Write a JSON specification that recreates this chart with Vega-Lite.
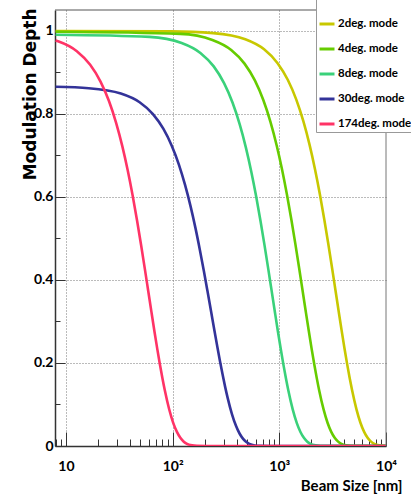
{
  "$schema": "https://vega.github.io/schema/vega-lite/v6.json",
  "width": 331,
  "height": 436,
  "autosize": {"type": "none"},
  "padding": {"left": 55, "top": 10, "right": 25, "bottom": 49},
  "background": "white",
  "config": {"view": {"stroke": null}},
  "datasets": {
    "curves": [
      {"mode": "2deg. mode", "size": 8, "depth": 0.9994},
      {"mode": "2deg. mode", "size": 96, "depth": 0.9986},
      {"mode": "2deg. mode", "size": 240, "depth": 0.9944},
      {"mode": "2deg. mode", "size": 480, "depth": 0.9796},
      {"mode": "2deg. mode", "size": 720, "depth": 0.9554},
      {"mode": "2deg. mode", "size": 960, "depth": 0.9226},
      {"mode": "2deg. mode", "size": 1200, "depth": 0.882},
      {"mode": "2deg. mode", "size": 1440, "depth": 0.8348},
      {"mode": "2deg. mode", "size": 1680, "depth": 0.7822},
      {"mode": "2deg. mode", "size": 1920, "depth": 0.7257},
      {"mode": "2deg. mode", "size": 2160, "depth": 0.6666},
      {"mode": "2deg. mode", "size": 2400, "depth": 0.6062},
      {"mode": "2deg. mode", "size": 2640, "depth": 0.5457},
      {"mode": "2deg. mode", "size": 2880, "depth": 0.4865},
      {"mode": "2deg. mode", "size": 3120, "depth": 0.4293},
      {"mode": "2deg. mode", "size": 3360, "depth": 0.3751},
      {"mode": "2deg. mode", "size": 3600, "depth": 0.3245},
      {"mode": "2deg. mode", "size": 3840, "depth": 0.2779},
      {"mode": "2deg. mode", "size": 4080, "depth": 0.2356},
      {"mode": "2deg. mode", "size": 4320, "depth": 0.1978},
      {"mode": "2deg. mode", "size": 4560, "depth": 0.1644},
      {"mode": "2deg. mode", "size": 4800, "depth": 0.1353},
      {"mode": "2deg. mode", "size": 5280, "depth": 0.0889},
      {"mode": "2deg. mode", "size": 5760, "depth": 0.0561},
      {"mode": "2deg. mode", "size": 6240, "depth": 0.034},
      {"mode": "2deg. mode", "size": 6720, "depth": 0.0198},
      {"mode": "2deg. mode", "size": 7200, "depth": 0.0111},
      {"mode": "2deg. mode", "size": 7680, "depth": 0.006},
      {"mode": "2deg. mode", "size": 8640, "depth": 0.0015},
      {"mode": "2deg. mode", "size": 10000, "depth": 0.0002},

      {"mode": "4deg. mode", "size": 8, "depth": 0.9976},
      {"mode": "4deg. mode", "size": 118, "depth": 0.9926},
      {"mode": "4deg. mode", "size": 236, "depth": 0.9778},
      {"mode": "4deg. mode", "size": 354, "depth": 0.9537},
      {"mode": "4deg. mode", "size": 472, "depth": 0.9209},
      {"mode": "4deg. mode", "size": 590, "depth": 0.8804},
      {"mode": "4deg. mode", "size": 708, "depth": 0.8333},
      {"mode": "4deg. mode", "size": 826, "depth": 0.7808},
      {"mode": "4deg. mode", "size": 944, "depth": 0.7244},
      {"mode": "4deg. mode", "size": 1062, "depth": 0.6654},
      {"mode": "4deg. mode", "size": 1180, "depth": 0.6051},
      {"mode": "4deg. mode", "size": 1298, "depth": 0.5448},
      {"mode": "4deg. mode", "size": 1416, "depth": 0.4856},
      {"mode": "4deg. mode", "size": 1534, "depth": 0.4285},
      {"mode": "4deg. mode", "size": 1652, "depth": 0.3744},
      {"mode": "4deg. mode", "size": 1770, "depth": 0.3239},
      {"mode": "4deg. mode", "size": 1888, "depth": 0.2774},
      {"mode": "4deg. mode", "size": 2006, "depth": 0.2352},
      {"mode": "4deg. mode", "size": 2124, "depth": 0.1974},
      {"mode": "4deg. mode", "size": 2242, "depth": 0.1641},
      {"mode": "4deg. mode", "size": 2360, "depth": 0.135},
      {"mode": "4deg. mode", "size": 2596, "depth": 0.0887},
      {"mode": "4deg. mode", "size": 2832, "depth": 0.056},
      {"mode": "4deg. mode", "size": 3068, "depth": 0.034},
      {"mode": "4deg. mode", "size": 3304, "depth": 0.0198},
      {"mode": "4deg. mode", "size": 3540, "depth": 0.0111},
      {"mode": "4deg. mode", "size": 3776, "depth": 0.006},
      {"mode": "4deg. mode", "size": 4248, "depth": 0.0015},
      {"mode": "4deg. mode", "size": 4720, "depth": 0.0003},
      {"mode": "4deg. mode", "size": 10000, "depth": 0},

      {"mode": "8deg. mode", "size": 8, "depth": 0.9903},
      {"mode": "8deg. mode", "size": 60.7, "depth": 0.9853},
      {"mode": "8deg. mode", "size": 121.4, "depth": 0.9707},
      {"mode": "8deg. mode", "size": 182.1, "depth": 0.9467},
      {"mode": "8deg. mode", "size": 242.8, "depth": 0.9142},
      {"mode": "8deg. mode", "size": 303.5, "depth": 0.8739},
      {"mode": "8deg. mode", "size": 364.2, "depth": 0.8272},
      {"mode": "8deg. mode", "size": 424.9, "depth": 0.7751},
      {"mode": "8deg. mode", "size": 485.6, "depth": 0.7191},
      {"mode": "8deg. mode", "size": 546.3, "depth": 0.6605},
      {"mode": "8deg. mode", "size": 607, "depth": 0.6006},
      {"mode": "8deg. mode", "size": 667.7, "depth": 0.5408},
      {"mode": "8deg. mode", "size": 728.4, "depth": 0.482},
      {"mode": "8deg. mode", "size": 789.1, "depth": 0.4254},
      {"mode": "8deg. mode", "size": 849.8, "depth": 0.3717},
      {"mode": "8deg. mode", "size": 910.5, "depth": 0.3215},
      {"mode": "8deg. mode", "size": 971.2, "depth": 0.2753},
      {"mode": "8deg. mode", "size": 1031.9, "depth": 0.2335},
      {"mode": "8deg. mode", "size": 1092.6, "depth": 0.196},
      {"mode": "8deg. mode", "size": 1153.3, "depth": 0.1629},
      {"mode": "8deg. mode", "size": 1214, "depth": 0.134},
      {"mode": "8deg. mode", "size": 1335.4, "depth": 0.0881},
      {"mode": "8deg. mode", "size": 1456.8, "depth": 0.0556},
      {"mode": "8deg. mode", "size": 1578.2, "depth": 0.0337},
      {"mode": "8deg. mode", "size": 1699.6, "depth": 0.0196},
      {"mode": "8deg. mode", "size": 1821, "depth": 0.011},
      {"mode": "8deg. mode", "size": 1942.4, "depth": 0.0059},
      {"mode": "8deg. mode", "size": 2185.2, "depth": 0.0015},
      {"mode": "8deg. mode", "size": 2428, "depth": 0.0003},
      {"mode": "8deg. mode", "size": 10000, "depth": 0},

      {"mode": "30deg. mode", "size": 8, "depth": 0.865},
      {"mode": "30deg. mode", "size": 16.36, "depth": 0.8617},
      {"mode": "30deg. mode", "size": 32.71, "depth": 0.8489},
      {"mode": "30deg. mode", "size": 49.07, "depth": 0.8279},
      {"mode": "30deg. mode", "size": 65.42, "depth": 0.7994},
      {"mode": "30deg. mode", "size": 81.78, "depth": 0.7642},
      {"mode": "30deg. mode", "size": 98.13, "depth": 0.7233},
      {"mode": "30deg. mode", "size": 114.5, "depth": 0.6778},
      {"mode": "30deg. mode", "size": 130.8, "depth": 0.6288},
      {"mode": "30deg. mode", "size": 147.2, "depth": 0.5776},
      {"mode": "30deg. mode", "size": 163.6, "depth": 0.5253},
      {"mode": "30deg. mode", "size": 179.9, "depth": 0.4729},
      {"mode": "30deg. mode", "size": 196.3, "depth": 0.4215},
      {"mode": "30deg. mode", "size": 212.6, "depth": 0.372},
      {"mode": "30deg. mode", "size": 229, "depth": 0.325},
      {"mode": "30deg. mode", "size": 245.3, "depth": 0.2811},
      {"mode": "30deg. mode", "size": 261.7, "depth": 0.2408},
      {"mode": "30deg. mode", "size": 278, "depth": 0.2042},
      {"mode": "30deg. mode", "size": 294.4, "depth": 0.1714},
      {"mode": "30deg. mode", "size": 310.7, "depth": 0.1424},
      {"mode": "30deg. mode", "size": 327.1, "depth": 0.1172},
      {"mode": "30deg. mode", "size": 359.8, "depth": 0.077},
      {"mode": "30deg. mode", "size": 392.5, "depth": 0.0486},
      {"mode": "30deg. mode", "size": 425.2, "depth": 0.0295},
      {"mode": "30deg. mode", "size": 458, "depth": 0.0172},
      {"mode": "30deg. mode", "size": 490.7, "depth": 0.0096},
      {"mode": "30deg. mode", "size": 523.4, "depth": 0.0052},
      {"mode": "30deg. mode", "size": 588.8, "depth": 0.0013},
      {"mode": "30deg. mode", "size": 654.2, "depth": 0.0003},
      {"mode": "30deg. mode", "size": 817.8, "depth": 0},
      {"mode": "30deg. mode", "size": 10000, "depth": 0},

      {"mode": "174deg. mode", "size": 8, "depth": 0.9768},
      {"mode": "174deg. mode", "size": 8.44, "depth": 0.9748},
      {"mode": "174deg. mode", "size": 12.66, "depth": 0.9507},
      {"mode": "174deg. mode", "size": 16.88, "depth": 0.918},
      {"mode": "174deg. mode", "size": 21.1, "depth": 0.8777},
      {"mode": "174deg. mode", "size": 25.32, "depth": 0.8307},
      {"mode": "174deg. mode", "size": 29.54, "depth": 0.7784},
      {"mode": "174deg. mode", "size": 33.76, "depth": 0.7222},
      {"mode": "174deg. mode", "size": 37.98, "depth": 0.6633},
      {"mode": "174deg. mode", "size": 42.2, "depth": 0.6032},
      {"mode": "174deg. mode", "size": 46.42, "depth": 0.5431},
      {"mode": "174deg. mode", "size": 50.64, "depth": 0.4841},
      {"mode": "174deg. mode", "size": 54.86, "depth": 0.4272},
      {"mode": "174deg. mode", "size": 59.08, "depth": 0.3732},
      {"mode": "174deg. mode", "size": 63.3, "depth": 0.3229},
      {"mode": "174deg. mode", "size": 67.52, "depth": 0.2765},
      {"mode": "174deg. mode", "size": 71.74, "depth": 0.2344},
      {"mode": "174deg. mode", "size": 75.96, "depth": 0.1968},
      {"mode": "174deg. mode", "size": 80.18, "depth": 0.1636},
      {"mode": "174deg. mode", "size": 84.4, "depth": 0.1346},
      {"mode": "174deg. mode", "size": 92.84, "depth": 0.0884},
      {"mode": "174deg. mode", "size": 101.28, "depth": 0.0558},
      {"mode": "174deg. mode", "size": 109.72, "depth": 0.0339},
      {"mode": "174deg. mode", "size": 118.16, "depth": 0.0197},
      {"mode": "174deg. mode", "size": 126.6, "depth": 0.011},
      {"mode": "174deg. mode", "size": 135.04, "depth": 0.0059},
      {"mode": "174deg. mode", "size": 151.92, "depth": 0.0015},
      {"mode": "174deg. mode", "size": 168.8, "depth": 0.0003},
      {"mode": "174deg. mode", "size": 211, "depth": 0},
      {"mode": "174deg. mode", "size": 10000, "depth": 0}
    ],
    "frame": [{"top": 1.05, "right": 10000}]
  },
  "layer": [
    {
      "data": {"name": "curves"},
      "mark": {"type": "line", "strokeWidth": 2.6, "interpolate": "monotone", "clip": true},
      "encoding": {
        "x": {
          "field": "size", "type": "quantitative",
          "scale": {"type": "log", "domain": [7.9, 10000], "nice": false},
          "axis": {
            "values": [8, 9, 10, 20, 30, 40, 50, 60, 70, 80, 90, 100, 200, 300, 400, 500, 600, 700, 800, 900, 1000, 2000, 3000, 4000, 5000, 6000, 7000, 8000, 9000, 10000],
            "labelExpr": "datum.value == 10 ? '10' : datum.value == 100 ? '10²' : datum.value == 1000 ? '10³' : datum.value == 10000 ? '10⁴' : ''",
            "labelFont": "Lato",
            "labelFontSize": 14, "labelFontWeight": "bold", "labelColor": "black",
            "labelPadding": 27, "labelOverlap": false, "labelFlush": false, "labelBound": false,
            "tickSize": {"condition": {"test": "abs(log(datum.value)/LN10 - round(log(datum.value)/LN10)) < 0.001", "value": -14}, "value": -7},
            "tickColor": "#333", "tickWidth": 1,
            "domainColor": "#333", "domainWidth": 1.5,
            "grid": true,
            "gridOpacity": {"condition": {"test": "abs(log(datum.value)/LN10 - round(log(datum.value)/LN10)) < 0.001 && datum.value < 10000", "value": 1}, "value": 0},
            "gridColor": "#777", "gridDash": [1, 2], "gridWidth": 1,
            "title": "Beam Size [nm]",
            "titleFont": "Lato",
            "titleFontSize": 15, "titleFontWeight": "bold", "titleColor": "black",
            "titleAlign": "right", "titleBaseline": "alphabetic",
            "titleX": 347, "titleY": 44
          }
        },
        "y": {
          "field": "depth", "type": "quantitative",
          "scale": {"domain": [0, 1.05], "nice": false, "zero": false},
          "axis": {
            "values": [0, 0.05, 0.1, 0.15, 0.2, 0.25, 0.3, 0.35, 0.4, 0.45, 0.5, 0.55, 0.6, 0.65, 0.7, 0.75, 0.8, 0.85, 0.9, 0.95, 1.0],
            "labelExpr": "abs(datum.value*5 - round(datum.value*5)) < 0.001 ? format(datum.value, '.1~f') : ''",
            "labelFont": "Lato",
            "labelFontSize": 14, "labelFontWeight": "bold", "labelColor": "black",
            "labelPadding": 12, "labelOverlap": false, "labelFlush": false, "labelBound": false,
            "tickSize": {"condition": {"test": "abs(datum.value*5 - round(datum.value*5)) < 0.001", "value": -10}, "value": -5},
            "tickColor": "#333", "tickWidth": 1,
            "domainColor": "#333", "domainWidth": 1.5,
            "grid": true,
            "gridOpacity": {"condition": {"test": "abs(datum.value*5 - round(datum.value*5)) < 0.001 && datum.value > 0", "value": 1}, "value": 0},
            "gridColor": "#777", "gridDash": [1, 2], "gridWidth": 1,
            "title": "Modulation Depth",
            "titleFont": "DejaVu Sans", "titleFontSize": 17, "titleFontWeight": "bold", "titleColor": "black",
            "titleAngle": 270, "titleAlign": "right", "titleBaseline": "middle",
            "titleX": -25, "titleY": -2
          }
        },
        "color": {
          "field": "mode", "type": "nominal",
          "scale": {
            "domain": ["2deg. mode", "4deg. mode", "8deg. mode", "30deg. mode", "174deg. mode"],
            "range": ["#c8c800", "#66cc00", "#3ad17a", "#333399", "#ff3366"]
          },
          "legend": {
            "orient": "none", "legendX": 261, "legendY": -12,
            "title": " ", "titleFontSize": 8, "titlePadding": 7,
            "padding": 2, "fillColor": "white", "strokeColor": "#999",
            "symbolType": "stroke", "symbolStrokeWidth": 3, "symbolSize": 225,
            "labelFont": "Lato",
            "labelFontSize": 11.5, "labelFontWeight": "bold", "labelColor": "black",
            "labelOffset": 2, "rowPadding": 10, "labelLimit": 200
          }
        }
      }
    },
    {
      "data": {"name": "frame"},
      "mark": {"type": "rule", "color": "#555", "strokeWidth": 1},
      "encoding": {"y": {"field": "top", "type": "quantitative"}}
    },
    {
      "data": {"name": "frame"},
      "mark": {"type": "rule", "color": "#777", "strokeWidth": 1},
      "encoding": {"x": {"field": "right", "type": "quantitative"}}
    }
  ]
}
